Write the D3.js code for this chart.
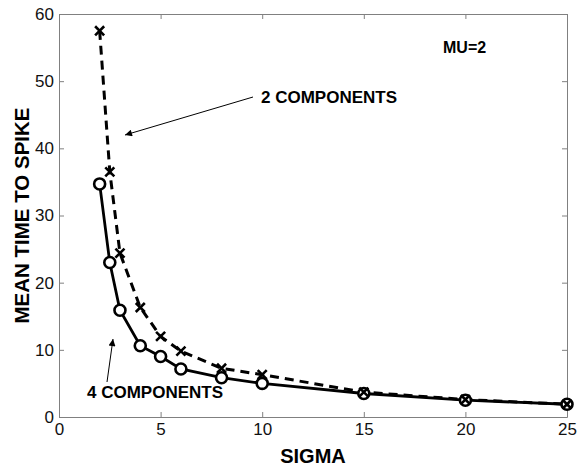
<!DOCTYPE html>
<html>
<head>
<meta charset="utf-8">
<script src="https://cdn.jsdelivr.net/npm/d3@7"></script>
<style>
  body { margin: 0; background: #fff; }
  svg { font-family: "Liberation Sans", Arial, sans-serif; }
</style>
</head>
<body>
<div id="chart"></div>
<script>
// valores
const sigma = [2, 2.5, 3, 4, 5, 6, 8, 10, 15, 20, 25];
const cuatroComp = [34.7, 23.0, 15.9, 10.6, 9.0, 7.15, 5.85, 5.0, 3.5, 2.5, 1.9];
const dosComp = [57.5, 36.5, 24.4, 16.3, 12.0, 9.8, 7.25, 6.3, 3.7, 2.6, 1.9];
const xTicks = [0, 5, 10, 15, 20, 25];
const yTicks = [0, 10, 20, 30, 40, 50, 60];

const width = 580;
const height = 472;
const margin = { top: 14, right: 13, bottom: 55, left: 59 };

const svg = d3.select('#chart')
  .append('svg')
  .attr('width', width)
  .attr('height', height);

const x = d3.scaleLinear()
  .domain([0, 25])
  .range([margin.left, width - margin.right]);

const y = d3.scaleLinear()
  .domain([0, 60])
  .range([height - margin.bottom, margin.top]);

const gris = '#808080';

// ejes con ticks hacia dentro (estilo matlab)
function ejeX(g) {
  g.attr('transform', `translate(0, ${y(0)})`)
    .call(d3.axisBottom(x).tickValues(xTicks).tickSize(-5).tickPadding(6).tickSizeOuter(0))
    .attr('font-size', '17px')
    .call(g => g.select('.domain').attr('stroke', gris))
    .call(g => g.selectAll('.tick line').attr('stroke', gris))
    .call(g => g.selectAll('.tick text').attr('fill', '#111'));
}

function ejeY(g) {
  g.attr('transform', `translate(${x(0)}, 0)`)
    .call(d3.axisLeft(y).tickValues(yTicks).tickSize(-5).tickPadding(5).tickSizeOuter(0))
    .attr('font-size', '17px')
    .call(g => g.select('.domain').attr('stroke', gris))
    .call(g => g.selectAll('.tick line').attr('stroke', gris))
    .call(g => g.selectAll('.tick text').attr('fill', '#111'));
}

svg.append('g').call(ejeX);
svg.append('g').call(ejeY);

// lados de arriba y derecha
svg.append('g')
  .attr('transform', `translate(0, ${y(60)})`)
  .call(d3.axisTop(x).tickValues(xTicks).tickSize(-5).tickFormat('').tickSizeOuter(0))
  .call(g => g.selectAll('path, line').attr('stroke', gris));
svg.append('g')
  .attr('transform', `translate(${x(25)}, 0)`)
  .call(d3.axisRight(y).tickValues(yTicks).tickSize(-5).tickFormat('').tickSizeOuter(0))
  .call(g => g.selectAll('path, line').attr('stroke', gris));

const linea = d3.line()
  .x(d => x(d[0]))
  .y(d => y(d[1]));

const serie2 = sigma.map((s, i) => [s, dosComp[i]]);
const serie4 = sigma.map((s, i) => [s, cuatroComp[i]]);

svg.append('path')
  .datum(serie2)
  .attr('d', linea)
  .attr('fill', 'none')
  .attr('stroke', '#000')
  .attr('stroke-width', 3)
  .attr('stroke-dasharray', '9,6');

svg.append('path')
  .datum(serie4)
  .attr('d', linea)
  .attr('fill', 'none')
  .attr('stroke', '#000')
  .attr('stroke-width', 2.8);

svg.append('g')
  .selectAll('circle')
  .data(serie4)
  .join('circle')
  .attr('cx', d => x(d[0]))
  .attr('cy', d => y(d[1]))
  .attr('r', 5.5)
  .attr('fill', '#fff')
  .attr('stroke', '#000')
  .attr('stroke-width', 2.6);

const cruz = d3.symbol().type(d3.symbolTimes).size(55);
svg.append('g')
  .selectAll('path')
  .data(serie2)
  .join('path')
  .attr('transform', d => `translate(${x(d[0])}, ${y(d[1])})`)
  .attr('d', cruz)
  .attr('fill', 'none')
  .attr('stroke', '#000')
  .attr('stroke-width', 2.6);

// anotaciones
svg.append('defs').append('marker')
  .attr('id', 'flecha')
  .attr('viewBox', '0 0 10 10')
  .attr('refX', 10)
  .attr('refY', 5)
  .attr('markerWidth', 10)
  .attr('markerHeight', 7)
  .attr('markerUnits', 'userSpaceOnUse')
  .attr('orient', 'auto')
  .append('path')
  .attr('d', 'M0,0 L10,5 L0,10 z')
  .attr('fill', '#000');

svg.append('line')
  .attr('x1', 253).attr('y1', 97)
  .attr('x2', 125).attr('y2', 135)
  .attr('stroke', '#000')
  .attr('stroke-width', 1)
  .attr('marker-end', 'url(#flecha)');

svg.append('line')
  .attr('x1', 107).attr('y1', 382)
  .attr('x2', 113).attr('y2', 339)
  .attr('stroke', '#000')
  .attr('stroke-width', 1)
  .attr('marker-end', 'url(#flecha)');

svg.append('text')
  .attr('x', 261).attr('y', 103)
  .attr('font-size', '17px').attr('font-weight', 'bold')
  .text('2 COMPONENTS');

svg.append('text')
  .attr('x', 87).attr('y', 398)
  .attr('font-size', '17px').attr('font-weight', 'bold')
  .text('4 COMPONENTS');

svg.append('text')
  .attr('x', 443).attr('y', 53)
  .attr('font-size', '16px').attr('font-weight', 'bold')
  .text('MU=2');

// titulos de ejes
svg.append('text')
  .attr('x', (x(0) + x(25)) / 2)
  .attr('y', 463)
  .attr('text-anchor', 'middle')
  .attr('font-size', '20px').attr('font-weight', 'bold')
  .text('SIGMA');

svg.append('text')
  .attr('transform', `translate(29, ${(y(0) + y(60)) / 2}) rotate(-90)`)
  .attr('text-anchor', 'middle')
  .attr('font-size', '20.5px').attr('font-weight', 'bold')
  .text('MEAN TIME TO SPIKE');
</script>
</body>
</html>
